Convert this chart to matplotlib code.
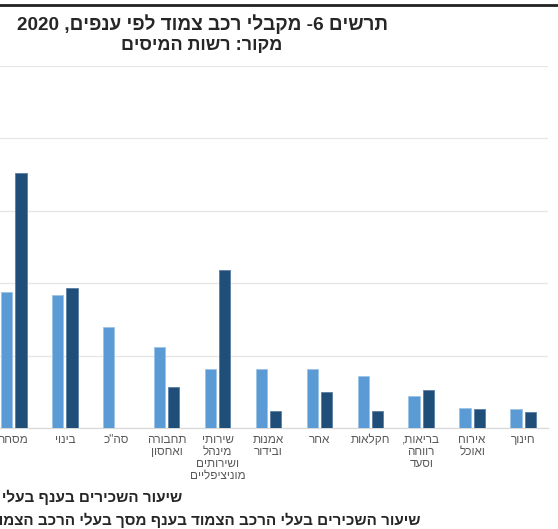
import re
import numpy as np
import matplotlib
matplotlib.use("Agg")
import matplotlib.pyplot as plt
from matplotlib.lines import Line2D

plt.rcParams["font.family"] = ["Liberation Sans", "DejaVu Sans"]

# data (logical Hebrew order), values in percent
categories = ["מסחר", "בינוי", 'סה"כ', "תחבורה\nואחסון",
              "שירותי\nמינהל\nושירותים\nמוניציפליים", "אמנות\nובידור", "אחר",
              "חקלאות", "בריאות,\nרווחה\nוסעד", "אירוח\nואוכל", "חינוך"]
share_employees = [9.4, 9.2, 7.0, 5.6, 4.1, 4.1, 4.1, 3.6, 2.2, 1.4, 1.3]
share_cars = [17.6, 9.7, np.nan, 2.8, 10.9, 1.2, 2.5, 1.2, 2.6, 1.3, 1.1]
y_ticks = [0, 5, 10, 15, 20, 25]

title = "תרשים 6- מקבלי רכב צמוד לפי ענפים, 2020"
subtitle = "מקור: רשות המיסים"
legend1 = "שיעור השכירים בענף בעלי רכב צמוד"
legend2 = "שיעור השכירים בעלי הרכב הצמוד בענף מסך בעלי הרכב הצמוד"


def vis(s):
    # matplotlib has no bidi, so put RTL text into visual order
    out = []
    for line in s.split("\n"):
        r = line[::-1]
        r = re.sub(r"\d+", lambda m: m.group(0)[::-1], r)
        out.append(r)
    return "\n".join(out)


W, H = 558, 529
fig = plt.figure(figsize=(W / 100, H / 100), dpi=100)
ax = fig.add_axes([-11.5 / W, (H - 428) / H, 560 / W, (428 - 66) / H])

x = np.arange(len(categories))
bw = 0.22
ax.bar(x - 0.14, share_employees, bw, color="#5b9bd5", edgecolor="#9cc3e6", linewidth=0.6, zorder=3)
ax.bar(x + 0.14, share_cars, bw, color="#1f4e79", edgecolor="#5a7ea3", linewidth=0.6, zorder=3)

ax.set_xlim(-0.5, len(categories) - 0.5)
ax.set_ylim(0, 25)
ax.set_yticks(y_ticks)
ax.set_yticklabels([])
ax.tick_params(axis="y", length=0)
ax.grid(True, axis="y", color="#e6e6e6", linewidth=0.9, zorder=0)
for s in ["top", "left", "right"]:
    ax.spines[s].set_visible(False)
ax.spines["bottom"].set_color("#d9d9d9")
ax.spines["bottom"].set_linewidth(0.9)

ax.set_xticks(x)
ax.set_xticklabels([vis(c) for c in categories], fontsize=8.5, color="#595959",
                   linespacing=1.0, multialignment="center")
ax.tick_params(axis="x", length=0, pad=4)

fig.text(202.5 / W, 1 - 24 / H, vis(title), ha="center", va="center",
         fontsize=13.7, fontweight="bold", color="#262626")
fig.text(201.5 / W, 1 - 46 / H, vis(subtitle), ha="center", va="center",
         fontsize=13, fontweight="bold", color="#262626")

# legend entries (the reference crop cuts them at the left edge)
fig.text(182 / W, 1 - 497 / H, vis(legend1), ha="right", va="center",
         fontsize=11, fontweight="bold", color="#262626")
fig.text(420 / W, 1 - 520 / H, vis(legend2), ha="right", va="center",
         fontsize=11, fontweight="bold", color="#262626")

# frame line at the top
fig.add_artist(Line2D([0, 1], [1 - 5 / H, 1 - 5 / H], transform=fig.transFigure,
                      color="#222222", linewidth=2))

fig.savefig("out.png", dpi=100)
